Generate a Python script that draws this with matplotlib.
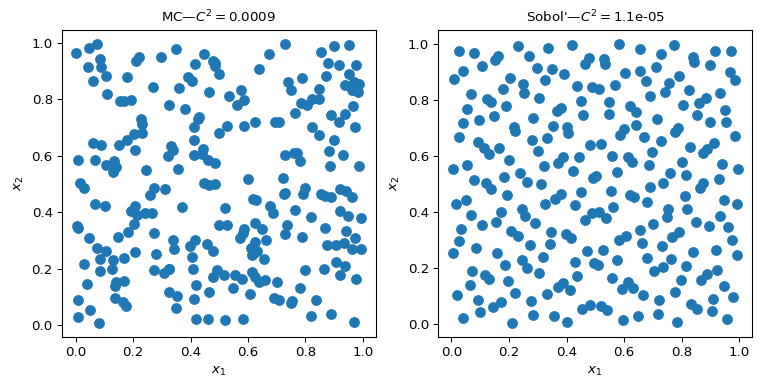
import numpy as np
import matplotlib
matplotlib.use("Agg")
import matplotlib.pyplot as plt

# points (x1, x2)
mc_x1 = [0.002, 0.045, 0.075, 0.083, 0.088, 0.041, 0.104, 0.059, 0.108, 0.179, 0.210, 0.221, 0.298, 0.267, 0.326,
         0.154, 0.166, 0.191, 0.227, 0.230, 0.229, 0.201, 0.179, 0.151, 0.206, 0.059, 0.088, 0.008, 0.066, 0.105,
         0.133, 0.140, 0.131, 0.245, 0.321, 0.330, 0.337,
         0.350, 0.447, 0.416, 0.477, 0.486, 0.483, 0.500, 0.392, 0.406, 0.359, 0.465, 0.534, 0.575, 0.585, 0.563,
         0.674, 0.638, 0.380, 0.430, 0.424, 0.410, 0.525, 0.497, 0.585, 0.624, 0.693, 0.709, 0.410, 0.442, 0.439,
         0.410, 0.459, 0.486, 0.357, 0.598, 0.447, 0.463, 0.486,
         0.727, 0.854, 0.899, 0.953, 0.878, 0.917, 0.977, 0.953, 0.871, 0.787, 0.740, 0.751, 0.937, 0.969, 0.987,
         0.963, 0.983, 0.974, 0.848, 0.822, 0.848, 0.806, 0.783, 0.765, 0.889, 0.917, 0.937, 0.967, 0.974, 0.822,
         0.848, 0.899, 0.882, 0.929, 0.727, 0.760, 0.771, 0.781, 0.886, 0.985, 0.723,
         0.797, 0.793, 0.730, 0.726, 0.854, 0.869, 0.889, 0.920, 0.942, 0.963, 0.675, 0.687, 0.765, 0.818, 0.736,
         0.727, 0.787, 0.868, 0.920, 0.949, 0.992, 0.942, 0.973, 0.874, 0.906, 0.934, 0.962, 0.995, 0.906, 0.937,
         0.921, 0.977, 0.863, 0.800, 0.701, 0.780, 0.689, 0.709, 0.754, 0.751, 0.838, 0.818, 0.889, 0.969,
         0.369, 0.518, 0.500, 0.528, 0.616, 0.628, 0.624, 0.650, 0.585, 0.581, 0.571, 0.663, 0.624, 0.609, 0.630,
         0.612, 0.621, 0.656, 0.338, 0.341, 0.414, 0.398, 0.405, 0.457, 0.477, 0.326, 0.408, 0.492, 0.477, 0.516,
         0.553, 0.580, 0.612, 0.624, 0.638, 0.659, 0.418, 0.546, 0.465, 0.606, 0.326, 0.353, 0.412, 0.348, 0.418,
         0.462, 0.518, 0.582,
         0.015, 0.029, 0.068, 0.101, 0.192, 0.206, 0.214, 0.241, 0.265, 0.258, 0.272, 0.312, 0.204, 0.004, 0.008,
         0.045, 0.147, 0.182, 0.271, 0.073, 0.104, 0.085, 0.129, 0.127, 0.168, 0.207, 0.280, 0.029, 0.083, 0.273,
         0.306, 0.324, 0.139, 0.136, 0.168, 0.037, 0.136, 0.163, 0.175, 0.008, 0.048, 0.006, 0.080]
mc_x2 = [0.965, 0.982, 0.996, 0.941, 0.915, 0.915, 0.884, 0.866, 0.820, 0.879, 0.935, 0.950, 0.950, 0.844, 0.779,
         0.795, 0.795, 0.799, 0.730, 0.713, 0.680, 0.678, 0.657, 0.638, 0.622, 0.645, 0.637, 0.586, 0.586, 0.568,
         0.583, 0.559, 0.541, 0.551, 0.598, 0.633, 0.619,
         0.979, 0.961, 0.925, 0.937, 0.929, 0.917, 0.890, 0.878, 0.864, 0.840, 0.826, 0.813, 0.834, 0.799, 0.779,
         0.961, 0.908, 0.767, 0.738, 0.730, 0.702, 0.706, 0.681, 0.706, 0.720, 0.720, 0.720, 0.654, 0.624, 0.607,
         0.603, 0.586, 0.574, 0.553, 0.519, 0.502, 0.496, 0.499,
         0.996, 0.968, 0.990, 0.993, 0.929, 0.920, 0.922, 0.888, 0.882, 0.876, 0.862, 0.833, 0.852, 0.862, 0.855,
         0.834, 0.826, 0.844, 0.837, 0.802, 0.802, 0.781, 0.785, 0.753, 0.745, 0.720, 0.749, 0.777, 0.700, 0.702,
         0.672, 0.654, 0.617, 0.601, 0.603, 0.611, 0.609, 0.583, 0.565, 0.565, 0.522,
         0.487, 0.465, 0.467, 0.464, 0.463, 0.459, 0.454, 0.482, 0.476, 0.455, 0.422, 0.396, 0.408, 0.383, 0.355,
         0.323, 0.313, 0.345, 0.405, 0.388, 0.380, 0.333, 0.310, 0.284, 0.284, 0.292, 0.270, 0.270, 0.224, 0.210,
         0.177, 0.163, 0.199, 0.195, 0.154, 0.131, 0.096, 0.089, 0.086, 0.080, 0.089, 0.032, 0.039, 0.011,
         0.420, 0.416, 0.355, 0.355, 0.447, 0.443, 0.363, 0.340, 0.341, 0.325, 0.310, 0.301, 0.295, 0.274, 0.263,
         0.248, 0.254, 0.234, 0.301, 0.270, 0.301, 0.281, 0.241, 0.286, 0.262, 0.199, 0.199, 0.195, 0.169, 0.177,
         0.177, 0.163, 0.187, 0.171, 0.154, 0.160, 0.142, 0.132, 0.118, 0.110, 0.118, 0.103, 0.092, 0.061, 0.021,
         0.021, 0.019, 0.021,
         0.505, 0.484, 0.429, 0.423, 0.404, 0.422, 0.390, 0.396, 0.396, 0.462, 0.484, 0.482, 0.358, 0.351, 0.343,
         0.310, 0.313, 0.331, 0.327, 0.274, 0.262, 0.234, 0.230, 0.199, 0.238, 0.260, 0.252, 0.217, 0.193, 0.197,
         0.183, 0.199, 0.154, 0.138, 0.157, 0.146, 0.097, 0.083, 0.067, 0.089, 0.053, 0.029, 0.007]

sobol_x1 = [0.027, 0.078, 0.233, 0.269, 0.335, 0.163, 0.150, 0.106, 0.039, 0.010, 0.296, 0.204, 0.247, 0.251, 0.325,
            0.180, 0.067, 0.306, 0.122, 0.138, 0.191, 0.053, 0.147, 0.095, 0.041, 0.282, 0.218, 0.222, 0.025, 0.279,
            0.331, 0.091, 0.112, 0.132, 0.166, 0.300, 0.201, 0.004, 0.055, 0.320, 0.237, 0.183, 0.077, 0.120, 0.261,
            0.310,
            0.138, 0.192, 0.014, 0.049, 0.067, 0.173, 0.244, 0.257, 0.325, 0.106, 0.155, 0.289, 0.033, 0.207, 0.230,
            0.027, 0.272, 0.084, 0.004, 0.158, 0.317, 0.244, 0.263, 0.186, 0.071, 0.116, 0.130, 0.303, 0.063, 0.198,
            0.222, 0.333, 0.018, 0.092, 0.171, 0.145, 0.276, 0.100, 0.285, 0.041, 0.212,
            0.419, 0.583, 0.656, 0.477, 0.463, 0.530, 0.535, 0.351, 0.392, 0.604, 0.654, 0.676, 0.438, 0.487, 0.514,
            0.569, 0.692, 0.449, 0.548, 0.622, 0.640, 0.381, 0.366, 0.459, 0.548, 0.353, 0.402, 0.406, 0.600, 0.586,
            0.640, 0.671, 0.482, 0.519, 0.389, 0.370, 0.442, 0.557, 0.614, 0.628, 0.686, 0.424, 0.576, 0.502, 0.493,
            0.773, 0.728, 0.710, 0.840, 0.845, 0.915, 0.971, 0.898, 0.967, 0.986, 0.790, 0.758, 0.741, 0.827, 0.932,
            0.805, 0.861, 0.885, 0.951, 0.855, 0.714, 0.898, 0.954, 0.788, 0.776, 0.985, 0.728, 0.830, 0.912, 0.887,
            0.873, 0.696, 0.802, 0.939, 0.995, 0.759, 0.816, 0.929, 0.737, 0.875,
            0.690, 0.865, 0.812, 0.946, 0.993, 0.681, 0.753, 0.749, 0.820, 0.935, 0.852, 0.894, 0.961, 0.702, 0.792,
            0.767, 0.974, 0.731, 0.921, 0.840, 0.993, 0.681, 0.763, 0.735, 0.703, 0.816, 0.922, 0.887, 0.869, 0.799,
            0.948, 0.776, 0.979, 0.908, 0.721, 0.833, 0.855, 0.905, 0.717, 0.957, 0.784,
            0.360, 0.382, 0.452, 0.555, 0.622, 0.634, 0.431, 0.562, 0.466, 0.488, 0.514, 0.537, 0.346, 0.398, 0.417,
            0.654, 0.608, 0.582, 0.664, 0.343, 0.470, 0.527, 0.428, 0.496, 0.511, 0.576, 0.437, 0.558, 0.387, 0.370,
            0.413, 0.613, 0.594, 0.631, 0.667, 0.455, 0.482, 0.519, 0.541, 0.357, 0.402, 0.596, 0.647]
sobol_x2 = [0.974, 0.968, 0.990, 0.957, 0.986, 0.955, 0.941, 0.920, 0.901, 0.872, 0.912, 0.876, 0.856, 0.823, 0.870,
            0.837, 0.820, 0.807, 0.801, 0.792, 0.777, 0.766, 0.740, 0.728, 0.716, 0.734, 0.702, 0.688, 0.668, 0.657,
            0.663, 0.649, 0.626, 0.606, 0.629, 0.617, 0.586, 0.551, 0.568, 0.562, 0.539, 0.525, 0.514, 0.501, 0.506,
            0.498,
            0.481, 0.461, 0.426, 0.440, 0.388, 0.399, 0.411, 0.383, 0.429, 0.351, 0.362, 0.358, 0.337, 0.331, 0.312,
            0.294, 0.281, 0.270, 0.253, 0.253, 0.239, 0.227, 0.199, 0.210, 0.189, 0.174, 0.160, 0.182, 0.138, 0.154,
            0.111, 0.106, 0.103, 0.086, 0.079, 0.061, 0.082, 0.043, 0.032, 0.022, 0.002,
            0.996, 0.999, 0.982, 0.948, 0.929, 0.945, 0.926, 0.908, 0.891, 0.894, 0.901, 0.866, 0.849, 0.844, 0.839,
            0.852, 0.813, 0.795, 0.792, 0.778, 0.756, 0.769, 0.759, 0.745, 0.749, 0.706, 0.701, 0.681, 0.695, 0.674,
            0.709, 0.667, 0.638, 0.642, 0.597, 0.574, 0.597, 0.600, 0.594, 0.578, 0.565, 0.547, 0.541, 0.527, 0.520,
            0.994, 0.962, 0.915, 0.953, 0.935, 0.972, 0.972, 0.923, 0.898, 0.870, 0.884, 0.858, 0.827, 0.834, 0.825,
            0.781, 0.789, 0.805, 0.763, 0.745, 0.730, 0.721, 0.720, 0.699, 0.683, 0.671, 0.654, 0.631, 0.645, 0.624,
            0.610, 0.613, 0.577, 0.571, 0.553, 0.537, 0.532, 0.515, 0.501, 0.501,
            0.488, 0.484, 0.457, 0.443, 0.429, 0.435, 0.410, 0.381, 0.408, 0.384, 0.364, 0.348, 0.345, 0.355, 0.327,
            0.310, 0.298, 0.278, 0.265, 0.256, 0.246, 0.234, 0.230, 0.201, 0.187, 0.207, 0.193, 0.177, 0.157, 0.157,
            0.133, 0.115, 0.097, 0.089, 0.086, 0.071, 0.053, 0.047, 0.035, 0.018, 0.007,
            0.447, 0.463, 0.472, 0.475, 0.461, 0.452, 0.423, 0.418, 0.372, 0.394, 0.398, 0.377, 0.328, 0.319, 0.305,
            0.333, 0.313, 0.298, 0.288, 0.284, 0.260, 0.262, 0.221, 0.218, 0.211, 0.227, 0.170, 0.165, 0.144, 0.130,
            0.121, 0.148, 0.124, 0.128, 0.103, 0.053, 0.067, 0.065, 0.050, 0.029, 0.008, 0.012, 0.026]

titles = ["MC\u2014$C^2 = 0.0009$", "Sobol'\u2014$C^2 = $1.1e-05"]

fig, axs = plt.subplots(1, 2, figsize=(8, 4), dpi=96)
fig.subplots_adjust(left=0.081, right=0.979, bottom=0.122, top=0.922, wspace=0.2)

for ax, xs, ys, title in zip(axs, [mc_x1, sobol_x1], [mc_x2, sobol_x2], titles):
    ax.scatter(xs, ys, s=50)
    ax.set_title(title, fontsize=10)
    ax.set_xlabel("$x_1$")
    ax.set_ylabel("$x_2$")

plt.savefig("out.png")
